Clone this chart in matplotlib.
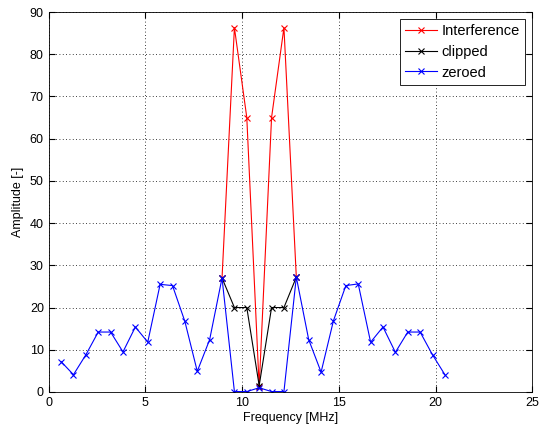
import numpy as np
import matplotlib.pyplot as plt

plt.rcParams['font.family'] = ['Liberation Sans', 'DejaVu Sans']

# frequency bins [MHz]
freq = [0.64, 1.28, 1.92, 2.56, 3.20, 3.84, 4.48, 5.12, 5.76, 6.40, 7.04,
        7.68, 8.32, 8.96, 9.60, 10.24, 10.88, 11.52, 12.16, 12.80, 13.44,
        14.08, 14.72, 15.36, 16.00, 16.64, 17.28, 17.92, 18.56, 19.20,
        19.84, 20.48]

# interference band (bins 14..20)
band = [8.96, 9.60, 10.24, 10.88, 11.52, 12.16, 12.80]
interference = [27.0, 86.3, 65.0, 1.2, 65.0, 86.3, 27.2]
clipped = [27.0, 20.0, 20.0, 1.5, 20.0, 20.0, 27.2]

zeroed = [7.2, 4.1, 8.8, 14.2, 14.2, 9.5, 15.4, 11.8, 25.5, 25.2, 16.7,
          4.9, 12.4, 27.0, 0.1, 0.1, 1.0, 0.1, 0.1, 27.2, 12.4,
          4.7, 16.9, 25.2, 25.6, 11.8, 15.4, 9.4, 14.2, 14.2,
          8.8, 4.1]

fig = plt.figure(figsize=(5.41, 4.37), dpi=100)
ax = fig.add_axes([0.09, 0.103, 0.894, 0.8695])

ax.plot(band, interference, 'r-x', lw=0.8, ms=5, mew=0.8, label='Interference')
ax.plot(band, clipped, 'k-x', lw=0.8, ms=5, mew=0.8, label='clipped')
ax.plot(freq, zeroed, 'b-x', lw=0.8, ms=5, mew=0.8, label='zeroed')

ax.set_xlim(0, 25)
ax.set_ylim(0, 90)
ax.set_xticks(np.arange(0, 26, 5))
ax.set_yticks(np.arange(0, 91, 10))
ax.grid(True, color='k', linestyle=(0, (1, 3)), linewidth=0.6)
ax.tick_params(direction='in', top=True, right=True, labelsize=9, length=4)
for s in ax.spines.values():
    s.set_linewidth(0.6)

ax.set_xlabel('Frequency [MHz]', fontsize=9, labelpad=2)
ax.set_ylabel('Amplitude [-]', fontsize=9, labelpad=4)

leg = ax.legend(loc='upper right', fontsize=10.5, fancybox=False, framealpha=1,
                edgecolor='k', handlelength=2.2, handletextpad=0.3,
                labelspacing=0.45, borderpad=0.35, borderaxespad=0.5)
leg.get_frame().set_linewidth(0.6)

fig.savefig('out.png', dpi=100)
